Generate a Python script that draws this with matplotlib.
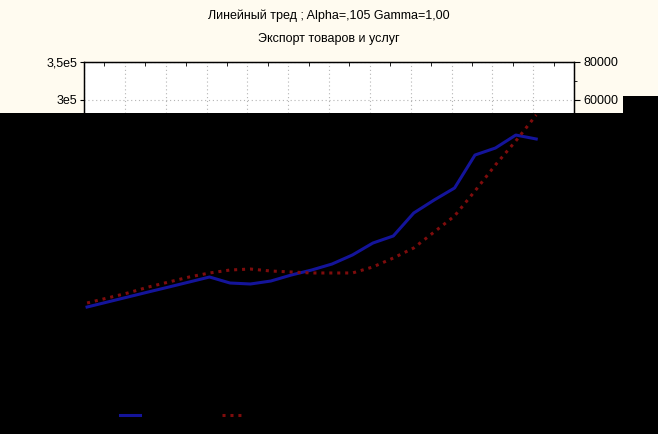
import matplotlib
matplotlib.use("Agg")
import matplotlib.pyplot as plt
from matplotlib.patches import Rectangle
from matplotlib.ticker import FixedLocator, MultipleLocator
import numpy as np

plt.rcParams['font.family'] = ['Liberation Sans', 'DejaVu Sans']

title_1 = "Линейный тред ; Alpha=,105 Gamma=1,00"
title_2 = "Экспорт товаров и услуг"

period = np.arange(23)
export = [27600, 34200, 40800, 47400, 53900, 60500, 67100, 59200, 57900,
          61800, 69700, 76300, 84200, 96100, 111800, 121100, 151300, 168400,
          184200, 227600, 236800, 253900, 248700]
smoothed = [32900, 39500, 46100, 53900, 60500, 67100, 72400, 76300, 77600,
            75000, 73700, 72400, 72400, 72400, 80300, 92100, 105300, 126300,
            147400, 180300, 214500, 246100, 280300]

left_ticks = [-5e4, 0, 5e4, 1e5, 1.5e5, 2e5, 2.5e5, 3e5, 3.5e5]
left_labels = ["-5e4", "0", "5e4", "1e5", "1,5e5", "2e5", "2,5e5", "3e5", "3,5e5"]
right_ticks = [-80000, -60000, -40000, -20000, 0, 20000, 40000, 60000, 80000]
right_labels = ["-80000", "-60000", "-40000", "-20000", "0", "20000", "40000", "60000", "80000"]
legend_labels = ["Экспорт", "Сглаж."]

W, H = 658, 434
fig = plt.figure(figsize=(W / 100, H / 100), dpi=100)
fig.patch.set_facecolor("#fffbf0")

ax = fig.add_axes([84 / W, 1 - 366 / H, 490 / W, 304 / H])
ax.set_facecolor("white")
ax.set_xlim(-0.15, 23.85)
ax.set_ylim(-5e4, 3.5e5)
ax.set_xticks(np.linspace(-0.15, 23.85, 13))
ax.set_xticklabels([])
ax.xaxis.set_minor_locator(FixedLocator(np.linspace(0.85, 22.85, 12)))
ax.set_yticks(left_ticks)
ax.set_yticklabels(left_labels, fontsize=9)
ax.grid(True, color="#b4b4b4", linestyle=(0, (1, 2.5)), linewidth=0.8)
ax.tick_params(axis="x", which="major", length=0, top=False, bottom=False)
ax.tick_params(axis="x", which="minor", direction="in", top=True, bottom=False, length=3)
ax.tick_params(axis="y", direction="out", length=3, pad=2)
for s in ax.spines.values():
    s.set_linewidth(1.0)

ax2 = ax.twinx()
ax2.set_ylim(-80000, 80000)
ax2.set_yticks(right_ticks)
ax2.set_yticklabels(right_labels, fontsize=9)
ax2.yaxis.set_minor_locator(MultipleLocator(10000))
ax2.tick_params(axis="y", which="major", direction="out", length=4, pad=3)
ax2.tick_params(axis="y", which="minor", direction="out", length=2)

# dark band over the lower part of the image
ax2.add_patch(Rectangle((0, 0), 1, 1 - 113 / H, transform=fig.transFigure,
                        facecolor="black", edgecolor="none", zorder=2.8, clip_on=False))
ax2.add_patch(Rectangle((623 / W, 0), 1 - 623 / W, 1 - 96 / H, transform=fig.transFigure,
                        facecolor="black", edgecolor="none", zorder=2.8, clip_on=False))

l1, = ax2.plot(period, export, color="#14149a", linewidth=2.2,
               transform=ax.transData, zorder=3)
l2, = ax2.plot(period, smoothed, color="#7e0c0c", linewidth=2.2,
               linestyle=(0, (1, 1.6)), transform=ax.transData, zorder=3)

fig.text(329 / W, 1 - 16 / H, title_1, ha="center", va="center", fontsize=9)
fig.text(329 / W, 1 - 39 / H, title_2, ha="center", va="center", fontsize=9)

leg = fig.legend([l1, l2], legend_labels, loc="center left",
                 bbox_to_anchor=(110 / W, 18 / H), ncol=2, frameon=False,
                 fontsize=8, handlelength=1.8, columnspacing=3.0, handletextpad=0.6)
for t in leg.get_texts():
    t.set_color("black")

fig.savefig("out.png", dpi=100, facecolor=fig.get_facecolor())
